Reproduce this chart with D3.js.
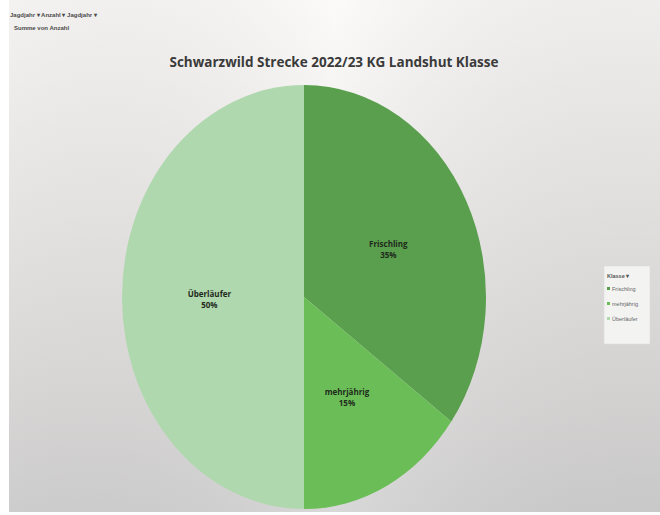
<!DOCTYPE html>
<html>
<head>
<meta charset="utf-8">
<script src="https://cdn.jsdelivr.net/npm/d3@7/dist/d3.min.js"></script>
<style>
  html, body { margin: 0; padding: 0; background: #fff; }
  svg { display: block; }
</style>
</head>
<body>
<svg id="chart" width="660" height="515"></svg>
<script>
// Wildstrecke nach Altersklasse
const categories = ["Frischling", "mehrjährig", "Überläufer"];
const shares = [35, 15, 50];
const colors = ["#5a9f4d", "#6bbe57", "#b0d8ae"];
const chartTitle = "Schwarzwild Strecke 2022/23 KG Landshut Klasse";
const fieldButtons = ["Jagdjahr \u25BE  Anzahl \u25BE  Jagdjahr \u25BE", "Summe von Anzahl"];
const legendTitle = "Klasse  \u25BE";

const svg = d3.select("#chart");
const W = 660, H = 515;

// Chart area background: light at the top, greyer towards the bottom
const defs = svg.append("defs");
const bg = defs.append("linearGradient").attr("id", "bg").attr("x1", 0).attr("y1", 0).attr("x2", 0).attr("y2", 1);
bg.append("stop").attr("offset", "0%").attr("stop-color", "#fbfaf9");
bg.append("stop").attr("offset", "45%").attr("stop-color", "#ebe9e8");
bg.append("stop").attr("offset", "100%").attr("stop-color", "#d4d3d3");
const side = defs.append("linearGradient").attr("id", "side").attr("x1", 0).attr("y1", 0).attr("x2", 1).attr("y2", 0);
side.append("stop").attr("offset", "0%").attr("stop-color", "#000").attr("stop-opacity", 0.03);
side.append("stop").attr("offset", "50%").attr("stop-color", "#fff").attr("stop-opacity", 0.12);
side.append("stop").attr("offset", "100%").attr("stop-color", "#000").attr("stop-opacity", 0.05);

svg.append("rect").attr("x", 9).attr("y", 0).attr("width", W - 9).attr("height", H - 3).attr("fill", "url(#bg)");
svg.append("rect").attr("x", 9).attr("y", 0).attr("width", W - 9).attr("height", H - 3).attr("fill", "url(#side)");

// Pivot field buttons top-left
svg.selectAll("text.field").data(fieldButtons).join("text")
  .attr("class", "field")
  .attr("x", (d, i) => i === 0 ? 10 : 14)
  .attr("y", (d, i) => 17 + i * 13)
  .attr("font-family", "Liberation Sans, Arial, sans-serif")
  .attr("font-size", 6)
  .attr("font-weight", "bold")
  .attr("fill", "#4a4a4a")
  .text(d => d);

// Title
svg.append("text")
  .attr("x", 334).attr("y", 67)
  .attr("text-anchor", "middle")
  .attr("font-family", "Open Sans, Liberation Sans, sans-serif")
  .attr("font-weight", "bold")
  .attr("font-size", 13.5)
  .attr("fill", "#3a3a3a")
  .text(chartTitle);

// Pie (stretched vertically, as displayed)
const cx = 304, cy = 297, rx = 182, ry = 212;
const pie = d3.pie().sort(null).value(d => d.v);
const arcs = pie(categories.map((c, i) => ({ c, v: shares[i] })));
const arc = d3.arc().innerRadius(0).outerRadius(ry);
const labelArc = d3.arc().innerRadius(ry * 0.52).outerRadius(ry * 0.52);

const g = svg.append("g").attr("transform", `translate(${cx},${cy})`);
g.append("g").attr("transform", `scale(${rx / ry},1)`)
  .selectAll("path").data(arcs).join("path")
  .attr("d", arc)
  .attr("fill", (d, i) => colors[i]);

const total = d3.sum(shares);
const lbl = g.selectAll("g.lbl").data(arcs).join("g")
  .attr("class", "lbl")
  .attr("transform", d => {
    const [x, y] = labelArc.centroid(d);
    return `translate(${x * rx / ry},${y + 2})`;
  });
lbl.append("text")
  .attr("text-anchor", "middle")
  .attr("y", -2)
  .attr("font-family", "Open Sans, Liberation Sans, sans-serif")
  .attr("font-weight", "bold")
  .attr("font-size", 8)
  .attr("fill", "#1f2a1c")
  .text(d => d.data.c);
lbl.append("text")
  .attr("text-anchor", "middle")
  .attr("y", 9)
  .attr("font-family", "Open Sans, Liberation Sans, sans-serif")
  .attr("font-weight", "bold")
  .attr("font-size", 8)
  .attr("fill", "#1f2a1c")
  .text(d => Math.round(d.data.v / total * 100) + "%");

// Legend
const lg = svg.append("g").attr("transform", "translate(604,266)");
lg.append("rect").attr("x", 0).attr("y", 0).attr("width", 46).attr("height", 78)
  .attr("fill", "#f3f3f2").attr("stroke", "#dcdcdc").attr("stroke-width", 0.6);
lg.append("text").attr("x", 3).attr("y", 12)
  .attr("font-family", "Liberation Sans, Arial, sans-serif")
  .attr("font-size", 5.5).attr("font-weight", "bold").attr("fill", "#555")
  .text(legendTitle);
const items = lg.selectAll("g.item").data(categories).join("g")
  .attr("class", "item")
  .attr("transform", (d, i) => `translate(3,${25 + i * 15})`);
items.append("rect").attr("x", 0).attr("y", -4).attr("width", 3).attr("height", 3)
  .attr("fill", (d, i) => colors[i]);
items.append("text").attr("x", 5).attr("y", 0)
  .attr("font-family", "Liberation Sans, Arial, sans-serif")
  .attr("font-size", 5.5).attr("fill", "#666")
  .text(d => d);
</script>
</body>
</html>
